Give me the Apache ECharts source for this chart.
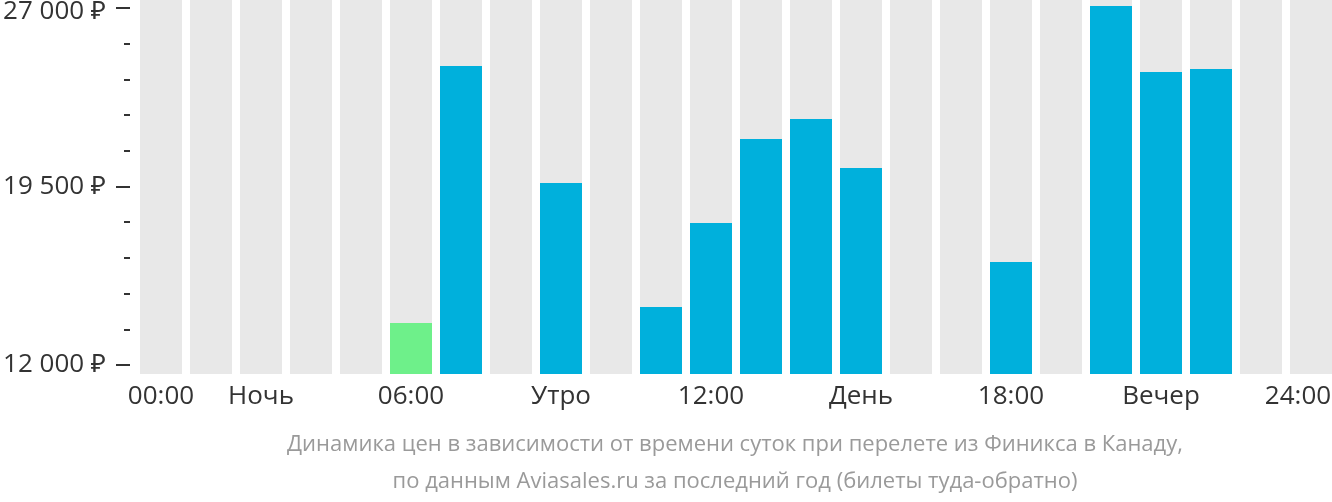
<!DOCTYPE html>
<html><head><meta charset="utf-8">
<script src="https://cdn.jsdelivr.net/npm/echarts@6/dist/echarts.min.js"></script>
<style>html,body{margin:0;padding:0;background:#fff}#c{width:1332px;height:502px}</style>
</head><body><div id="c"></div>
<script>
const hours = ['0','1','2','3','4','5','6','7','8','9','10','11','12','13','14','15','16','17','18','19','20','21','22','23'];
const xLabels = ['00:00','','Ночь','','','06:00','','','Утро','','','12:00','','','День','','','18:00','','','Вечер','','','24:00'];
const prices = [null,null,null,null,null,13760,24530,null,19625,null,14430,17950,21470,22310,20255,null,null,16315,null,27040,24280,24400,null,null];
const cheapestIndex = 5;
const yTickValues = [12000, 19500, 27000];
const titleLines = ['Динамика цен в зависимости от времени суток при перелете из Финикса в Канаду,', 'по данным Aviasales.ru за последний год (билеты туда-обратно)'];

const fmt = v => String(v).replace(/\B(?=(\d{3})+(?!\d))/g, ' ') + ' ₽';
const chart = echarts.init(document.getElementById('c'), null, {renderer:'canvas'});
const FONT = '"Open Sans", "Noto Sans", sans-serif';
const lastIdx = hours.length - 1;
const yMin = yTickValues[0], yMax = yTickValues[yTickValues.length-1];
const baseY = {type:'value', min:yMin, max:yMax, position:'left', offset:0, axisLine:{show:false}, splitLine:{show:false}};
chart.setOption({
  animation:false,
  grid:[
    {left:136, top:0, width:1200, height:374, outerBoundsMode:'none', containLabel:false},
    {left:130, top:8, width:1000, height:357, outerBoundsMode:'none', containLabel:false},
    {left:130, top:8, width:1000, height:357, outerBoundsMode:'none', containLabel:false},
    {left:130, top:12, width:1000, height:357, outerBoundsMode:'none', containLabel:false}
  ],
  xAxis:[
    {type:'category', gridIndex:0,
     data:hours.map((h,i)=>i===lastIdx?{value:h, textStyle:{padding:[0,26,0,0]}}:h),
     axisLine:{show:false}, axisTick:{show:false},
     axisLabel:{interval:0, formatter:(v,i)=>xLabels[i], color:'#333', fontSize:26, fontFamily:FONT, margin:10}},
    {type:'value', gridIndex:1, show:false},
    {type:'value', gridIndex:2, show:false},
    {type:'value', gridIndex:3, show:false}
  ],
  yAxis:[
    {type:'value', gridIndex:0, min:11623, max:27293, show:false},
    Object.assign({}, baseY, {gridIndex:1, interval:1500,
     axisTick:{show:true, length:6, lineStyle:{color:'#333', width:2}},
     axisLabel:{show:false}}),
    Object.assign({}, baseY, {gridIndex:2, interval:7500,
     axisTick:{show:true, length:14, lineStyle:{color:'#333', width:2}},
     axisLabel:{show:true, margin:24, color:'#333', fontSize:26, fontFamily:FONT,
       formatter:v=>(yTickValues.includes(v) && v!==yMax)?fmt(v):''}}),
    Object.assign({}, baseY, {gridIndex:3, interval:7500,
     axisTick:{show:false},
     axisLabel:{show:true, margin:24, color:'#333', fontSize:26, fontFamily:FONT,
       formatter:v=>v===yMax?fmt(v):''}})
  ],
  series:[{
    type:'bar', xAxisIndex:0, yAxisIndex:0, barWidth:42,
    showBackground:true, backgroundStyle:{color:'#e8e8e8'},
    data:prices.map((v,i)=>v==null?null:{value:v, itemStyle:{color: i===cheapestIndex?'#6ef08a':'#00b0dc'}})
  }],
  graphic:titleLines.map((t,i)=>({type:'text', x:735, y:445+37*i,
      style:{text:t, fill:'#9a9a9a', font:'22px '+FONT, textAlign:'center', textVerticalAlign:'middle'}}))
});
</script></body></html>
